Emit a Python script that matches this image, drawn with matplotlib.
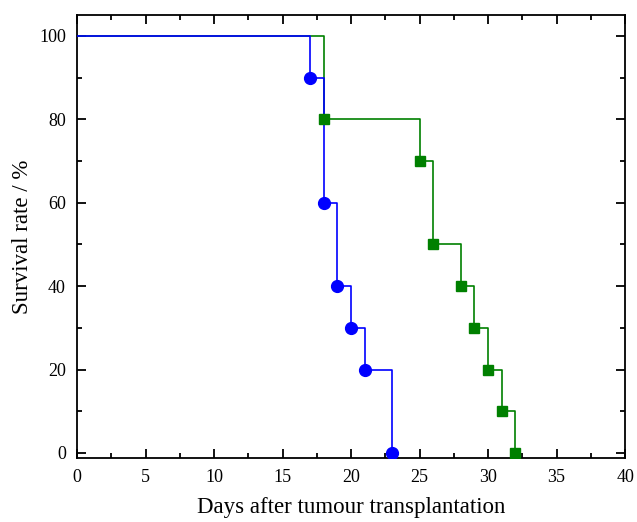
import matplotlib

matplotlib.use('Agg')
import matplotlib.pyplot as plt
from matplotlib.ticker import MultipleLocator

# Dati delle curve di sopravvivenza
giorni_blu = [0, 17, 18, 19, 20, 21, 23]
sopravv_blu = [100, 90, 60, 40, 30, 20, 0]
giorni_verde = [0, 18, 25, 26, 28, 29, 30, 31, 32]
sopravv_verde = [100, 80, 70, 50, 40, 30, 20, 10, 0]

plt.rcParams['font.family'] = ['Liberation Serif', 'DejaVu Serif']

fig = plt.figure(figsize=(6.37, 5.22), dpi=100)
ax = fig.add_axes([0.1209, 0.1226, 0.8604, 0.8487])

ax.plot(giorni_verde, sopravv_verde, drawstyle='steps-post', color='#008000', lw=1.2, zorder=2)
ax.plot(giorni_blu, sopravv_blu, drawstyle='steps-post', color='#0000ff', lw=1.2, zorder=3)
ax.plot(giorni_blu[1:], sopravv_blu[1:], ls='none', marker='o', ms=8.5, color='#0000ff', zorder=4)
ax.plot(giorni_verde[1:], sopravv_verde[1:], ls='none', marker='s', ms=7.5, color='#008000', zorder=5)

ax.set_xlim(0, 40)
ax.set_ylim(-1.2, 105)
ax.xaxis.set_major_locator(MultipleLocator(5))
ax.xaxis.set_minor_locator(MultipleLocator(2.5))
ax.yaxis.set_major_locator(MultipleLocator(20))
ax.yaxis.set_minor_locator(MultipleLocator(10))
ax.tick_params(which='both', direction='in', top=True, right=True, width=1.3, labelsize=13)
ax.tick_params(which='major', length=6.5)
ax.tick_params(which='minor', length=3.5)
ax.tick_params(axis='x', which='major', pad=8)
ax.tick_params(axis='y', which='major', pad=8)
for s in ax.spines.values():
    s.set_linewidth(1.3)

ax.set_xlabel('Days after tumour transplantation', fontsize=16.5, labelpad=8)
ax.set_ylabel('Survival rate / %', fontsize=16.5, labelpad=4)

fig.savefig('out.png', dpi=100)
